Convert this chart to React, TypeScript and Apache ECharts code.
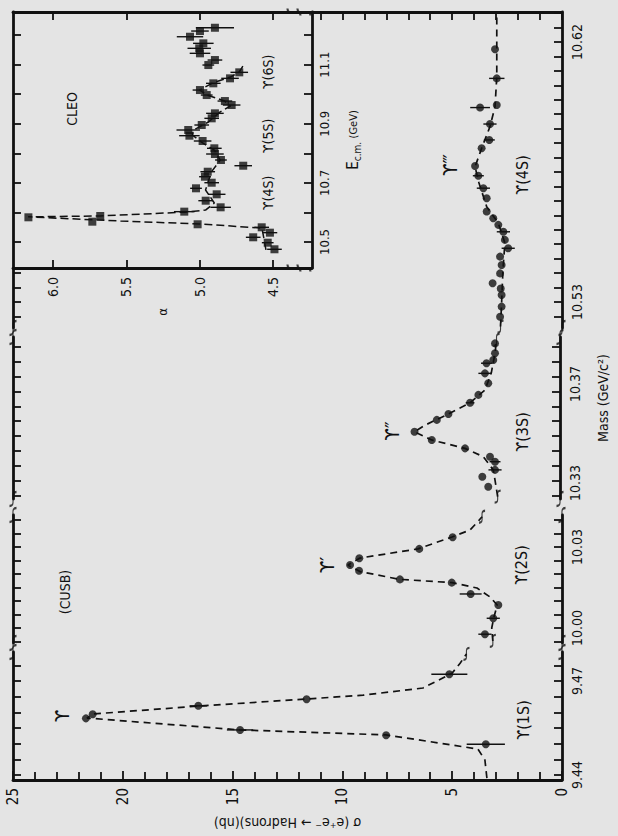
import React, { useEffect, useRef } from "react";
import * as echarts from "echarts";

const FONT = "'Liberation Sans Narrow', 'DejaVu Sans Condensed', 'Liberation Sans', 'DejaVu Sans', sans-serif";
const INK = "#111111";
const PAPER = "#e4e4e4";

// ---- main sigma axis ----
const SIGMA_MIN = 0;
const SIGMA_MAX = 25;
const SIGMA_TOP_TICKS = [0, 1, 2, 3, 4, 5, 6, 7, 8, 9, 10, 11];

// ---- broken mass axis: four segments ----
const SEG_RANGES = [
  [9.4384, 9.4793],
  [9.99444, 10.04185],
  [10.32354, 10.38899],
  [10.521, 10.63038],
];
const SEG_LABELS = [
  [9.44, 9.47],
  [10.0, 10.03],
  [10.33, 10.37],
  [10.53, 10.62],
];
const SEG_TICKS = [
  [9.44, 9.445, 9.45, 9.455, 9.46, 9.465, 9.47, 9.475],
  [9.995, 10.0, 10.005, 10.01, 10.015, 10.02, 10.025, 10.03, 10.035, 10.04],
  [10.325, 10.331, 10.337, 10.343, 10.349, 10.355, 10.361, 10.367, 10.373, 10.379, 10.385],
  [10.525, 10.53, 10.535, 10.54, 10.545, 10.55, 10.555, 10.56, 10.565, 10.57, 10.575, 10.58, 10.585, 10.59, 10.595, 10.6, 10.605, 10.61, 10.615, 10.62, 10.625, 10.63],
];
const SEG4_LEFT_TICK_MAX = 10.541;

// ---- CUSB data (mass GeV, sigma nb, sigma error) ----
const seg1Mass = [9.4498, 9.4527, 9.4544, 9.4581, 9.4594, 9.4621, 9.4642, 9.4722];
const seg1Sigma = [3.47, 8.01, 14.66, 21.68, 21.37, 16.56, 11.63, 5.13];
const seg1Err = [0.87, 0, 0.6, 0, 0, 0.4, 0, 0.82];
const seg1FitMass = [9.439, 9.4448, 9.4483, 9.4528, 9.4544, 9.4582, 9.4595, 9.462, 9.4643, 9.4655, 9.4678, 9.4725, 9.4757, 9.4787];
const seg1FitSigma = [3.42, 3.51, 3.83, 8.01, 14.66, 21.63, 21.36, 16.58, 11.61, 9.06, 6.33, 5.01, 4.64, 4.35];

const seg2Mass = [9.9977, 10.0036, 10.0085, 10.0126, 10.0168, 10.018, 10.0212, 10.0233, 10.0258, 10.0293, 10.0336];
const seg2Sigma = [3.51, 3.13, 2.9, 4.16, 5.02, 7.38, 9.24, 9.65, 9.23, 6.5, 4.98];
const seg2Err = [0.3, 0.3, 0, 0.5, 0, 0, 0, 0, 0, 0, 0];
const seg2FitMass = [9.9952, 10.0, 10.004, 10.0085, 10.0115, 10.0148, 10.0168, 10.018, 10.0209, 10.0233, 10.0259, 10.0293, 10.0337, 10.0363, 10.0394, 10.0412];
const seg2FitSigma = [3.15, 3.2, 3.1, 2.95, 3.28, 3.87, 5.01, 7.38, 9.2, 9.75, 9.2, 6.56, 5.01, 4.19, 3.83, 3.64];

const seg3Mass = [10.3285, 10.3325, 10.3353, 10.3386, 10.3406, 10.344, 10.3474, 10.3507, 10.3555, 10.3579, 10.3624, 10.3656, 10.3703, 10.3743, 10.3784, 10.3797, 10.3824, 10.3864];
const seg3Sigma = [3.28, 3.55, 2.97, 2.97, 3.2, 4.34, 5.86, 6.65, 5.63, 5.1, 4.11, 3.73, 3.28, 3.43, 3.36, 3.05, 2.97, 2.97];
const seg3Err = [0, 0, 0.3, 0.25, 0, 0, 0, 0, 0, 0, 0.2, 0, 0, 0.3, 0.25, 0, 0, 0];
const seg3FitMass = [10.3245, 10.3312, 10.3353, 10.3406, 10.344, 10.3474, 10.3507, 10.3534, 10.3579, 10.3624, 10.3676, 10.3745, 10.3824, 10.3878];
const seg3FitSigma = [2.85, 2.97, 3.05, 3.5, 4.34, 5.87, 6.65, 6.16, 5.1, 4.11, 3.43, 3.14, 2.97, 2.9];

const seg4Mass = [10.5249, 10.5284, 10.5324, 10.5347, 10.5365, 10.5399, 10.5428, 10.5457, 10.5486, 10.5515, 10.5543, 10.5567, 10.559, 10.5613, 10.5659, 10.5694, 10.5737, 10.5771, 10.5832, 10.5861, 10.5916, 10.5973, 10.5982, 10.6074, 10.6175];
const seg4Sigma = [2.82, 2.75, 2.75, 2.79, 3.16, 2.82, 2.75, 2.82, 2.45, 2.6, 2.67, 2.9, 3.13, 3.43, 3.43, 3.58, 3.81, 3.96, 3.66, 3.31, 3.28, 3.73, 2.97, 2.97, 3.05];
const seg4Err = [0, 0, 0, 0, 0, 0, 0, 0, 0.3, 0, 0.3, 0, 0, 0, 0, 0.3, 0.25, 0, 0, 0.25, 0.3, 0.45, 0, 0.35, 0];
const seg4FitMass = [10.5215, 10.5297, 10.5411, 10.5504, 10.5573, 10.563, 10.5712, 10.5768, 10.5832, 10.5907, 10.5976, 10.608, 10.6276, 10.6304];
const seg4FitSigma = [2.8, 2.75, 2.69, 2.6, 2.9, 3.43, 3.78, 3.96, 3.66, 3.28, 3.05, 2.97, 2.97, 2.97];

// ---- CLEO inset (E c.m. GeV, alpha) ----
const ALPHA_RANGE = [4.234, 6.273];
const ALPHA_TICKS = [4.5, 5.0, 5.5, 6.0];
const E_RANGE = [10.412, 11.278];
const E_TICKS = [10.5, 10.6, 10.7, 10.8, 10.9, 11.0, 11.1, 11.2];
const E_LABELS = [10.5, 10.7, 10.9, 11.1];
const ALPHA_BREAKS = [4.357, 4.289];

const cleoE = [10.4753, 10.4976, 10.5159, 10.5315, 10.5497, 10.5599, 10.5687, 10.5835, 10.5879, 10.6026, 10.6173, 10.6397, 10.6613, 10.6816, 10.7005, 10.7208, 10.7377, 10.758, 10.7773, 10.7976, 10.8169, 10.8416, 10.8596, 10.8788, 10.8957, 10.9183, 10.9352, 10.9633, 10.9768, 10.9971, 11.014, 11.0367, 11.0536, 11.0739, 11.0986, 11.1155, 11.1382, 11.1551, 11.172, 11.1943, 11.2136, 11.2247];
const cleoAlpha = [4.49, 4.536, 4.635, 4.521, 4.577, 5.014, 5.732, 6.168, 5.678, 5.105, 4.857, 4.959, 4.884, 5.025, 4.918, 4.964, 4.945, 4.703, 4.855, 4.896, 4.9, 4.98, 5.07, 5.078, 4.986, 4.918, 4.896, 4.782, 4.828, 4.952, 4.998, 4.907, 4.793, 4.73, 4.941, 4.896, 4.998, 5.003, 4.975, 5.066, 4.998, 4.896];
const cleoErr = [0.05, 0.04, 0.05, 0.05, 0.05, 0, 0, 0, 0, 0.07, 0.07, 0.05, 0.06, 0.04, 0.05, 0.04, 0.05, 0.06, 0.04, 0.06, 0.05, 0.06, 0.07, 0.08, 0.05, 0.05, 0.06, 0.06, 0.05, 0.04, 0.05, 0.05, 0.06, 0.06, 0.04, 0.05, 0.07, 0.08, 0.07, 0.09, 0.06, 0.13];
const cleoFitE = [10.473, 10.547, 10.561, 10.571, 10.585, 10.588, 10.601, 10.608, 10.632, 10.676, 10.737, 10.777, 10.811, 10.835, 10.862, 10.879, 10.906, 10.94, 10.96, 10.977, 10.997, 11.014, 11.038, 11.058, 11.075, 11.099];
const cleoFitAlpha = [4.548, 4.575, 5.0, 5.54, 6.17, 5.68, 5.1, 4.96, 4.9, 4.96, 4.92, 4.86, 4.9, 4.98, 5.05, 5.04, 4.94, 4.86, 4.79, 4.83, 4.95, 5.0, 4.91, 4.79, 4.73, 4.7];

const SEGMENTS = [
  { mass: seg1Mass, sigma: seg1Sigma, err: seg1Err, fitMass: seg1FitMass, fitSigma: seg1FitSigma },
  { mass: seg2Mass, sigma: seg2Sigma, err: seg2Err, fitMass: seg2FitMass, fitSigma: seg2FitSigma },
  { mass: seg3Mass, sigma: seg3Sigma, err: seg3Err, fitMass: seg3FitMass, fitSigma: seg3FitSigma },
  { mass: seg4Mass, sigma: seg4Sigma, err: seg4Err, fitMass: seg4FitMass, fitSigma: seg4FitSigma },
];

// layout (pixels)
const GRID_TOPS = [652, 515, 337, 12];
const GRID_BOTTOMS = [780, 643, 499, 328];
const FRAME_LEFT = 13;
const FRAME_RIGHT = 562;
const INSET_RIGHT = 312;
const INSET_BOTTOM = 268;

const BREAK_PATH = "path://M8,0 C3,0 4,4 4,8 C4,12 5,16 0,16";

const LABELS = [
  { t: "ϒ", x: 62, y: 716, s: 20 },
  { t: "ϒ′", x: 327, y: 565, s: 20 },
  { t: "ϒ″", x: 392, y: 431, s: 20 },
  { t: "ϒ‴", x: 450, y: 165, s: 20 },
  { t: "ϒ(1S)", x: 523, y: 720, s: 16 },
  { t: "ϒ(2S)", x: 521, y: 565, s: 16 },
  { t: "ϒ(3S)", x: 522, y: 432, s: 16 },
  { t: "ϒ(4S)", x: 522, y: 175, s: 16 },
  { t: "(CUSB)", x: 65, y: 592, s: 14 },
  { t: "CLEO", x: 72, y: 109, s: 14 },
  { t: "ϒ(4S)", x: 268, y: 193, s: 14 },
  { t: "ϒ(5S)", x: 268, y: 136, s: 14 },
  { t: "ϒ(6S)", x: 268, y: 72, s: 14 },
];

const AXIS_LINE = { show: true, lineStyle: { color: INK, width: 2.8 } };
const TICK_STYLE = { color: INK, width: 1.8 };

function errorBarSeries(xIdx: number, yIdx: number, data: number[][]) {
  return {
    type: "custom",
    xAxisIndex: xIdx,
    yAxisIndex: yIdx,
    encode: { x: [0, 1], y: 2 },
    data,
    renderItem: (_p: any, api: any) => {
      const a = api.coord([api.value(0), api.value(2)]);
      const b = api.coord([api.value(1), api.value(2)]);
      return {
        type: "line",
        shape: { x1: a[0], y1: a[1], x2: b[0], y2: b[1] },
        style: { stroke: INK, lineWidth: 1.4 },
      };
    },
    silent: true,
    z: 3,
  };
}

function breakSeries(xIdx: number, yIdx: number, data: number[][], rotate = 0, size = [6, 13]) {
  return {
    type: "scatter",
    xAxisIndex: xIdx,
    yAxisIndex: yIdx,
    data,
    symbol: BREAK_PATH,
    symbolSize: size,
    symbolRotate: rotate,
    clip: false,
    silent: true,
    itemStyle: { color: "none", borderColor: INK, borderWidth: 1.6 },
    z: 6,
  };
}

function buildOption() {
  const grids: any[] = GRID_TOPS.map((t, i) => ({
    left: FRAME_LEFT,
    right: 618 - FRAME_RIGHT,
    top: t,
    height: GRID_BOTTOMS[i] - t,
  }));
  grids.push({ left: FRAME_LEFT, top: GRID_TOPS[3], width: INSET_RIGHT - FRAME_LEFT, height: INSET_BOTTOM - GRID_TOPS[3] });

  const xAxes: any[] = [];
  // 0: main sigma axis (bottom of segment 1)
  xAxes.push({
    gridIndex: 0,
    type: "value",
    min: SIGMA_MIN,
    max: SIGMA_MAX,
    interval: 5,
    inverse: true,
    position: "bottom",
    axisLine: AXIS_LINE,
    axisTick: { inside: true, length: 9, lineStyle: TICK_STYLE },
    minorTick: { show: true, splitNumber: 5, length: 8, lineStyle: TICK_STYLE },
    splitLine: { show: false },
    axisLabel: { rotate: 90, margin: 8, fontSize: 15, color: INK, fontFamily: FONT },
    name: "σ (e⁺e⁻ → Hadrons)(nb)",
    nameLocation: "middle",
    nameGap: 36,
    nameRotate: 180,
    nameTextStyle: { fontSize: 14, color: INK, fontFamily: FONT },
  });
  // 1,2: hidden sigma axes for segments 2 and 3
  [1, 2].forEach((g) =>
    xAxes.push({ gridIndex: g, type: "value", min: SIGMA_MIN, max: SIGMA_MAX, inverse: true, show: false })
  );
  // 3: sigma axis for segment 4, drawn at the top as mirror
  xAxes.push({
    gridIndex: 3,
    type: "value",
    min: SIGMA_MIN,
    max: SIGMA_MAX,
    inverse: true,
    position: "top",
    axisLine: AXIS_LINE,
    axisTick: { inside: true, length: 8, lineStyle: TICK_STYLE, customValues: SIGMA_TOP_TICKS },
    axisLabel: { show: false },
    splitLine: { show: false },
  });
  // 4: inset alpha axis (bottom)
  xAxes.push({
    gridIndex: 4,
    type: "value",
    min: ALPHA_RANGE[0],
    max: ALPHA_RANGE[1],
    inverse: true,
    position: "bottom",
    axisLine: AXIS_LINE,
    axisTick: { inside: true, length: 8, lineStyle: TICK_STYLE, customValues: ALPHA_TICKS },
    axisLabel: {
      customValues: ALPHA_TICKS,
      formatter: (v: number) => v.toFixed(1),
      rotate: 90,
      margin: 9,
      fontSize: 14,
      color: INK,
      fontFamily: FONT,
    },
    splitLine: { show: false },
    name: "α",
    nameLocation: "middle",
    nameGap: 40,
    nameRotate: 90,
    nameTextStyle: { fontSize: 13, color: INK, fontFamily: FONT },
  });
  // 5: inset alpha mirror ticks at top
  xAxes.push({
    gridIndex: 4,
    type: "value",
    min: ALPHA_RANGE[0],
    max: ALPHA_RANGE[1],
    inverse: true,
    position: "top",
    axisLine: { show: false },
    axisTick: { show: true, inside: true, length: 8, lineStyle: TICK_STYLE, customValues: ALPHA_TICKS },
    axisLabel: { show: false },
    splitLine: { show: false },
  });

  const yAxes: any[] = [];
  SEG_RANGES.forEach((r, i) => {
    yAxes.push({
      gridIndex: i,
      type: "value",
      min: r[0],
      max: r[1],
      position: "right",
      axisLine: AXIS_LINE,
      axisTick: { show: true, inside: true, length: 8, lineStyle: TICK_STYLE, customValues: SEG_TICKS[i] },
      axisLabel: {
        customValues: SEG_LABELS[i],
        formatter: (v: number) => v.toFixed(2),
        rotate: 90,
        margin: 8,
        fontSize: 14,
        color: INK,
        fontFamily: FONT,
      },
      splitLine: { show: false },
      ...(i === 2
        ? {
            name: "Mass (GeV/c²)",
            nameLocation: "middle",
            nameGap: 36,
            nameRotate: 90,
            nameTextStyle: { fontSize: 14, color: INK, fontFamily: FONT, padding: [0, 0, 0, 40] },
          }
        : {}),
    });
    const leftTicks = i === 3 ? SEG_TICKS[i].filter((v) => v <= SEG4_LEFT_TICK_MAX) : SEG_TICKS[i];
    yAxes.push({
      gridIndex: i,
      type: "value",
      min: r[0],
      max: r[1],
      position: "left",
      axisLine: AXIS_LINE,
      axisTick: { show: true, inside: true, length: 8, lineStyle: TICK_STYLE, customValues: leftTicks },
      axisLabel: { show: false },
      splitLine: { show: false },
    });
  });
  // 8: inset E axis (right side of inset)
  yAxes.push({
    gridIndex: 4,
    type: "value",
    min: E_RANGE[0],
    max: E_RANGE[1],
    position: "right",
    axisLine: AXIS_LINE,
    axisTick: { show: true, inside: true, length: 8, lineStyle: TICK_STYLE, customValues: E_TICKS },
    axisLabel: {
      customValues: E_LABELS,
      formatter: (v: number) => v.toFixed(1),
      rotate: 90,
      margin: 6,
      fontSize: 13,
      color: INK,
      fontFamily: FONT,
    },
    splitLine: { show: false },
    name: "{e|E}{s|c.m.} {g|(GeV)}",
    nameLocation: "middle",
    nameGap: 32,
    nameRotate: 90,
    nameTextStyle: {
      color: INK,
      fontFamily: FONT,
      rich: {
        e: { fontSize: 15, color: INK, fontFamily: FONT },
        s: { fontSize: 10, color: INK, fontFamily: FONT, padding: [8, 0, 0, 0] },
        g: { fontSize: 11, color: INK, fontFamily: FONT },
      },
    },
  });
  // 9: inset E mirror ticks on left frame
  yAxes.push({
    gridIndex: 4,
    type: "value",
    min: E_RANGE[0],
    max: E_RANGE[1],
    position: "left",
    axisLine: { show: false },
    axisTick: { show: true, inside: true, length: 8, lineStyle: TICK_STYLE, customValues: E_TICKS },
    axisLabel: { show: false },
    splitLine: { show: false },
  });

  const series: any[] = [];
  SEGMENTS.forEach((seg, i) => {
    const yIdx = 2 * i;
    series.push({
      type: "line",
      xAxisIndex: i,
      yAxisIndex: yIdx,
      data: seg.fitSigma.map((s, k) => [s, seg.fitMass[k]]),
      showSymbol: false,
      symbol: "none",
      lineStyle: { color: INK, width: 1.7, type: [7, 5] },
      z: 2,
      silent: true,
    });
    const eb = seg.mass
      .map((m, k) => [seg.sigma[k] - seg.err[k], seg.sigma[k] + seg.err[k], m, seg.err[k]])
      .filter((d) => d[3] > 0)
      .map((d) => [d[0], d[1], d[2]]);
    series.push(errorBarSeries(i, yIdx, eb));
    series.push({
      type: "scatter",
      xAxisIndex: i,
      yAxisIndex: yIdx,
      data: seg.sigma.map((s, k) => [s, seg.mass[k]]),
      symbol: "circle",
      symbolSize: 8,
      itemStyle: { color: INK },
      z: 4,
    });
    // break marks on the curve and on both axes
    const r = SEG_RANGES[i];
    const curveBreaks: number[][] = [];
    const axisBreaks: number[][] = [];
    const n = seg.fitMass.length;
    if (i > 0) {
      curveBreaks.push([seg.fitSigma[0], seg.fitMass[0]]);
      axisBreaks.push([SIGMA_MIN, r[0]], [SIGMA_MAX, r[0]]);
    }
    if (i < 3) {
      curveBreaks.push([seg.fitSigma[n - 1], seg.fitMass[n - 1]]);
      axisBreaks.push([SIGMA_MIN, r[1]], [SIGMA_MAX, r[1]]);
    }
    series.push(breakSeries(i, yIdx, curveBreaks, 0, [6, 12]));
    series.push(breakSeries(i, yIdx, axisBreaks, 0, [7, 14]));
  });

  // inset CLEO
  series.push({
    type: "line",
    xAxisIndex: 4,
    yAxisIndex: 8,
    data: cleoFitAlpha.map((a, k) => [a, cleoFitE[k]]),
    showSymbol: false,
    symbol: "none",
    lineStyle: { color: INK, width: 1.5, type: [8, 4] },
    z: 2,
    silent: true,
  });
  series.push(
    errorBarSeries(
      4,
      8,
      cleoE
        .map((e, k) => [cleoAlpha[k] - cleoErr[k], cleoAlpha[k] + cleoErr[k], e, cleoErr[k]])
        .filter((d) => d[3] > 0)
        .map((d) => [d[0], d[1], d[2]])
    )
  );
  series.push({
    type: "scatter",
    xAxisIndex: 4,
    yAxisIndex: 8,
    data: cleoAlpha.map((a, k) => [a, cleoE[k]]),
    symbol: "rect",
    symbolSize: 8,
    itemStyle: { color: INK },
    z: 4,
  });
  series.push(
    breakSeries(
      4,
      8,
      ALPHA_BREAKS.flatMap((a) => [
        [a, E_RANGE[0]],
        [a, E_RANGE[1]],
      ]),
      90,
      [7, 13]
    )
  );

  const graphic = LABELS.map((l) => ({
    type: "text",
    x: l.x,
    y: l.y,
    rotation: Math.PI / 2,
    silent: true,
    z: 10,
    style: {
      text: l.t,
      fontSize: l.s,
      fontFamily: FONT,
      fill: INK,
      textAlign: "center",
      textVerticalAlign: "middle",
    },
  }));

  return {
    animation: false,
    backgroundColor: PAPER,
    textStyle: { fontFamily: FONT, color: INK },
    grid: grids,
    xAxis: xAxes,
    yAxis: yAxes,
    series,
    graphic,
  };
}

export default function App() {
  const ref = useRef<HTMLDivElement>(null);
  useEffect(() => {
    if (!ref.current) return;
    const chart = echarts.init(ref.current, undefined, { renderer: "svg" });
    chart.setOption(buildOption() as any);
    return () => chart.dispose();
  }, []);
  return (
    <div
      ref={ref}
      style={{ position: "fixed", left: 0, top: 0, width: 618, height: 836, background: PAPER }}
    />
  );
}
